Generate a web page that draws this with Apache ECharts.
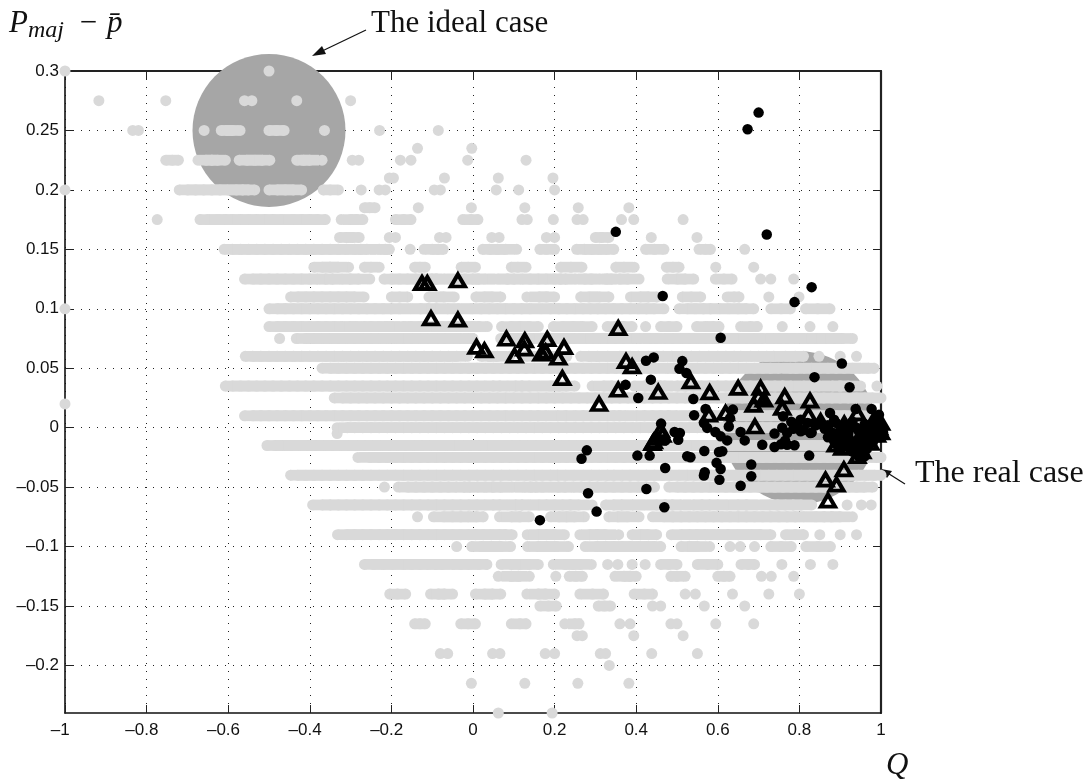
<!DOCTYPE html>
<html><head><meta charset="utf-8">
<style>html,body{margin:0;padding:0;background:#fff}#c{width:1092px;height:781px}</style>
<script src="https://cdn.jsdelivr.net/npm/echarts@6/dist/echarts.min.js"></script>
</head><body><div id="c"></div>
<script>
const xTicks=[-1,-0.8,-0.6,-0.4,-0.2,0,0.2,0.4,0.6,0.8,1];
const yTicks=[-0.2,-0.15,-0.1,-0.05,0,0.05,0.1,0.15,0.2,0.25,0.3];
const caseCentres=[[-0.5,0.25],[0.8,0]];
const rowLevels=[0.3,0.275,0.25,0.235,0.225,0.21,0.2,0.185,0.175,0.16,0.15,0.135,0.125,0.11,0.1,0.085,0.075,0.06,0.05,0.035,0.025,0.02,0.01,0,-0.005,-0.015,-0.025,-0.04,-0.05,-0.065,-0.075,-0.09,-0.1,-0.115,-0.125,-0.14,-0.15,-0.165,-0.175,-0.19,-0.2,-0.215,-0.24];
const rowQ=[
[-1,-0.5],
[-0.917,-0.753,-0.56,-0.542,-0.432,-0.3],
[-0.834,-0.82,-0.659,-0.617,-0.603,-0.59,-0.571,-0.5,-0.482,-0.463,-0.364,-0.229,-0.085],
[-0.136,-0.003],
[-0.753,-0.737,-0.722,-0.674,-0.655,-0.64,-0.625,-0.607,-0.573,-0.555,-0.535,-0.516,-0.498,-0.432,-0.415,-0.4,-0.37,-0.296,-0.28,-0.178,-0.152,-0.013,0.13],
[-0.205,-0.195,-0.07,0.062,0.196],
[-1,-0.72,-0.7,-0.68,-0.66,-0.64,-0.62,-0.6,-0.58,-0.565,-0.55,-0.535,-0.5,-0.48,-0.46,-0.44,-0.42,-0.367,-0.35,-0.33,-0.274,-0.23,-0.215,-0.095,-0.08,0.057,0.112,0.2],
[-0.266,-0.253,-0.24,-0.134,-0.004,0.127,0.258,0.382],
[-0.774,-0.669,-0.65,-0.625,-0.607,-0.59,-0.57,-0.55,-0.53,-0.51,-0.49,-0.468,-0.441,-0.42,-0.4,-0.38,-0.362,-0.323,-0.3,-0.285,-0.27,-0.19,-0.17,-0.152,-0.025,-0.005,0.012,0.12,0.133,0.197,0.255,0.27,0.364,0.394,0.515],
[-0.327,-0.31,-0.295,-0.279,-0.205,-0.19,-0.082,-0.066,0.046,0.064,0.18,0.2,0.3,0.315,0.333,0.437,0.549],
[-0.61,-0.59,-0.57,-0.55,-0.53,-0.51,-0.49,-0.47,-0.45,-0.43,-0.41,-0.39,-0.37,-0.35,-0.33,-0.31,-0.29,-0.275,-0.26,-0.23,-0.215,-0.205,-0.154,-0.12,-0.1,-0.085,-0.073,0.024,0.04,0.06,0.08,0.107,0.164,0.18,0.2,0.254,0.273,0.292,0.31,0.33,0.345,0.423,0.445,0.468,0.554,0.57,0.582,0.666],
[-0.39,-0.37,-0.35,-0.33,-0.305,-0.266,-0.25,-0.23,-0.143,-0.13,-0.117,-0.029,-0.012,0.006,0.094,0.11,0.13,0.215,0.24,0.267,0.35,0.37,0.395,0.474,0.49,0.505,0.595,0.688],
[-0.56,-0.54,-0.52,-0.5,-0.48,-0.46,-0.44,-0.42,-0.4,-0.38,-0.36,-0.345,-0.323,-0.3,-0.28,-0.253,-0.218,-0.2,-0.18,-0.16,-0.14,-0.12,-0.1,-0.09,-0.07,-0.04,-0.02,0,0.013,0.03,0.062,0.084,0.1,0.12,0.14,0.16,0.18,0.2,0.215,0.227,0.25,0.276,0.288,0.31,0.329,0.337,0.36,0.38,0.407,0.476,0.5,0.52,0.541,0.594,0.615,0.635,0.705,0.73,0.786],
[-0.447,-0.43,-0.41,-0.39,-0.37,-0.35,-0.33,-0.31,-0.29,-0.267,-0.2,-0.18,-0.16,-0.108,-0.09,-0.07,-0.046,0.007,0.027,0.048,0.068,0.132,0.162,0.18,0.2,0.264,0.284,0.31,0.333,0.386,0.41,0.43,0.451,0.513,0.535,0.558,0.623,0.64,0.652,0.725,0.799],
[-1,-0.5,-0.48,-0.46,-0.44,-0.42,-0.4,-0.38,-0.36,-0.34,-0.32,-0.3,-0.28,-0.26,-0.24,-0.22,-0.2,-0.18,-0.153,-0.128,-0.11,-0.09,-0.063,-0.034,-0.003,0.019,0.04,0.06,0.08,0.1,0.12,0.14,0.166,0.19,0.21,0.23,0.25,0.27,0.288,0.306,0.325,0.345,0.365,0.385,0.405,0.425,0.445,0.468,0.505,0.525,0.545,0.565,0.582,0.603,0.627,0.65,0.67,0.688,0.73,0.755,0.778,0.815,0.845,0.875],
[-0.5,-0.48,-0.46,-0.44,-0.42,-0.4,-0.38,-0.36,-0.34,-0.32,-0.3,-0.288,-0.267,-0.25,-0.23,-0.21,-0.198,-0.17,-0.153,-0.13,-0.11,-0.087,-0.08,-0.06,-0.04,-0.02,0,0.015,0.035,0.07,0.093,0.115,0.138,0.16,0.197,0.219,0.245,0.268,0.292,0.329,0.35,0.37,0.39,0.423,0.46,0.48,0.5,0.548,0.57,0.59,0.603,0.656,0.68,0.697,0.758,0.826,0.882],
[-0.474,-0.433,-0.41,-0.39,-0.37,-0.35,-0.33,-0.31,-0.29,-0.27,-0.25,-0.23,-0.21,-0.19,-0.17,-0.15,-0.13,-0.11,-0.087,-0.07,-0.05,-0.03,-0.01,0,0.068,0.09,0.11,0.13,0.15,0.17,0.19,0.21,0.23,0.25,0.276,0.292,0.31,0.33,0.35,0.37,0.39,0.41,0.435,0.447,0.47,0.49,0.51,0.53,0.55,0.57,0.59,0.61,0.63,0.65,0.67,0.69,0.71,0.737,0.75,0.77,0.79,0.82,0.84,0.864,0.885,0.905,0.93],
[-0.558,-0.54,-0.52,-0.5,-0.48,-0.46,-0.44,-0.42,-0.4,-0.38,-0.36,-0.34,-0.32,-0.3,-0.28,-0.26,-0.24,-0.22,-0.2,-0.18,-0.16,-0.14,-0.12,-0.1,-0.08,-0.06,-0.04,-0.014,0.02,0.04,0.06,0.09,0.13,0.15,0.17,0.19,0.21,0.23,0.264,0.284,0.305,0.33,0.36,0.385,0.405,0.43,0.45,0.466,0.487,0.513,0.535,0.555,0.578,0.6,0.62,0.64,0.656,0.68,0.7,0.72,0.737,0.766,0.79,0.81,0.848,0.9,0.94],
[-0.37,-0.35,-0.33,-0.31,-0.29,-0.27,-0.25,-0.23,-0.21,-0.19,-0.17,-0.15,-0.13,-0.11,-0.09,-0.07,-0.05,-0.03,-0.01,0.01,0.03,0.05,0.07,0.09,0.11,0.13,0.15,0.17,0.19,0.21,0.23,0.25,0.27,0.29,0.31,0.33,0.35,0.37,0.39,0.41,0.43,0.45,0.476,0.492,0.51,0.53,0.55,0.57,0.59,0.61,0.63,0.65,0.67,0.69,0.71,0.73,0.75,0.778,0.79,0.81,0.83,0.85,0.87,0.89,0.91,0.93,0.95,0.97,0.983],
[-0.607,-0.59,-0.57,-0.55,-0.53,-0.51,-0.49,-0.47,-0.45,-0.43,-0.41,-0.39,-0.37,-0.35,-0.33,-0.31,-0.29,-0.27,-0.25,-0.23,-0.21,-0.19,-0.17,-0.15,-0.13,-0.11,-0.09,-0.07,-0.05,-0.03,-0.01,0.01,0.03,0.05,0.065,0.085,0.105,0.12,0.138,0.162,0.19,0.21,0.23,0.25,0.292,0.32,0.34,0.36,0.395,0.42,0.44,0.46,0.47,0.5,0.52,0.54,0.56,0.58,0.6,0.62,0.64,0.66,0.68,0.7,0.72,0.74,0.76,0.78,0.81,0.83,0.85,0.88,0.9,0.92,0.95,0.99],
[-0.34,-0.32,-0.3,-0.28,-0.26,-0.24,-0.22,-0.2,-0.18,-0.16,-0.14,-0.12,-0.1,-0.08,-0.06,-0.04,-0.02,0,0.02,0.04,0.06,0.08,0.1,0.12,0.14,0.16,0.18,0.2,0.22,0.24,0.26,0.28,0.3,0.32,0.34,0.36,0.38,0.4,0.42,0.44,0.46,0.48,0.5,0.52,0.54,0.56,0.58,0.6,0.62,0.64,0.66,0.68,0.7,0.72,0.74,0.76,0.78,0.8,0.82,0.84,0.86,0.88,0.9,0.92,0.94,0.96,0.98,1],
[-1],
[-0.56,-0.54,-0.52,-0.5,-0.48,-0.46,-0.44,-0.42,-0.4,-0.38,-0.36,-0.34,-0.32,-0.3,-0.28,-0.26,-0.24,-0.22,-0.2,-0.18,-0.16,-0.14,-0.12,-0.1,-0.08,-0.06,-0.04,-0.02,0,0.02,0.04,0.06,0.08,0.1,0.12,0.14,0.16,0.18,0.207,0.227,0.25,0.27,0.29,0.31,0.33,0.345,0.36,0.375,0.4,0.42,0.44,0.46,0.48,0.5,0.53,0.55,0.57,0.59,0.61,0.63,0.65,0.67,0.69,0.71,0.73,0.75,0.77,0.79,0.81,0.83,0.85,0.87,0.89,0.91,0.93,0.95,0.98],
[-0.333,-0.308,-0.29,-0.27,-0.25,-0.23,-0.21,-0.19,-0.17,-0.15,-0.13,-0.11,-0.09,-0.07,-0.05,-0.03,-0.01,0.01,0.03,0.05,0.07,0.09,0.11,0.13,0.15,0.17,0.19,0.21,0.23,0.25,0.27,0.29,0.31,0.33,0.35,0.37,0.39,0.41,0.43,0.45,0.47,0.49,0.51,0.53,0.55,0.57,0.59,0.61,0.63,0.65,0.67,0.69,0.71,0.73,0.75,0.77,0.79,0.81,0.83,0.85,0.87,0.89,0.91,0.93,0.95,0.97,0.99,1],
[-0.333],
[-0.505,-0.485,-0.465,-0.445,-0.425,-0.405,-0.385,-0.365,-0.345,-0.325,-0.305,-0.285,-0.265,-0.245,-0.225,-0.205,-0.185,-0.165,-0.145,-0.125,-0.105,-0.085,-0.065,-0.045,-0.025,-0.005,0.015,0.035,0.055,0.075,0.095,0.115,0.135,0.155,0.175,0.195,0.215,0.235,0.255,0.275,0.295,0.315,0.335,0.355,0.375,0.395,0.415,0.435,0.455,0.475,0.495,0.515,0.535,0.555,0.575,0.595,0.615,0.635,0.655,0.675,0.695,0.715,0.735,0.755,0.775,0.795,0.815,0.835,0.855,0.875,0.895,0.915,0.935,0.955,0.98],
[-0.282,-0.253,-0.23,-0.21,-0.19,-0.17,-0.15,-0.13,-0.11,-0.09,-0.07,-0.05,-0.03,-0.01,0.01,0.03,0.05,0.07,0.09,0.11,0.13,0.15,0.17,0.19,0.21,0.23,0.25,0.27,0.29,0.31,0.33,0.35,0.37,0.39,0.41,0.43,0.45,0.47,0.49,0.51,0.53,0.55,0.57,0.59,0.61,0.63,0.65,0.67,0.69,0.71,0.73,0.75,0.77,0.79,0.81,0.83,0.85,0.87,0.89,0.91,0.93,0.95,0.97,0.99,1],
[-0.447,-0.43,-0.41,-0.39,-0.37,-0.35,-0.33,-0.31,-0.29,-0.27,-0.25,-0.23,-0.21,-0.19,-0.17,-0.15,-0.13,-0.11,-0.09,-0.07,-0.05,-0.03,-0.01,0.01,0.03,0.05,0.07,0.09,0.11,0.13,0.15,0.17,0.19,0.207,0.227,0.248,0.27,0.29,0.31,0.33,0.345,0.365,0.385,0.405,0.425,0.445,0.465,0.485,0.505,0.525,0.545,0.565,0.585,0.605,0.625,0.645,0.665,0.685,0.705,0.725,0.745,0.765,0.785,0.805,0.825,0.845,0.865,0.885,0.905,0.925,0.945,0.965,0.985,1],
[-0.217,-0.183,-0.16,-0.14,-0.12,-0.1,-0.08,-0.06,-0.04,-0.02,-0.01,0.01,0.03,0.05,0.068,0.095,0.125,0.14,0.155,0.17,0.19,0.21,0.225,0.245,0.265,0.285,0.305,0.325,0.345,0.365,0.385,0.405,0.425,0.445,0.48,0.5,0.52,0.54,0.56,0.58,0.6,0.62,0.64,0.66,0.68,0.7,0.72,0.74,0.76,0.78,0.8,0.82,0.84,0.86,0.88,0.9,0.92,0.94,0.96,0.98],
[-0.393,-0.37,-0.35,-0.33,-0.31,-0.29,-0.27,-0.25,-0.23,-0.21,-0.19,-0.17,-0.15,-0.13,-0.11,-0.09,-0.07,-0.05,-0.03,-0.01,0.01,0.03,0.05,0.065,0.085,0.105,0.12,0.138,0.161,0.18,0.2,0.22,0.24,0.26,0.292,0.325,0.345,0.365,0.39,0.42,0.45,0.47,0.49,0.51,0.54,0.56,0.58,0.6,0.623,0.65,0.67,0.696,0.727,0.745,0.765,0.785,0.805,0.83,0.917,0.952,0.976],
[-0.136,-0.097,-0.073,-0.05,-0.03,-0.01,0.01,0.025,0.065,0.094,0.115,0.138,0.19,0.21,0.23,0.25,0.273,0.333,0.355,0.38,0.407,0.44,0.467,0.49,0.51,0.53,0.55,0.57,0.59,0.61,0.63,0.65,0.67,0.69,0.71,0.73,0.75,0.77,0.79,0.813,0.84,0.86,0.88,0.9,0.93],
[-0.332,-0.31,-0.29,-0.27,-0.25,-0.23,-0.21,-0.19,-0.17,-0.15,-0.13,-0.11,-0.09,-0.07,-0.05,-0.03,-0.011,0.006,0.025,0.045,0.065,0.08,0.096,0.133,0.16,0.18,0.2,0.224,0.262,0.286,0.305,0.325,0.357,0.39,0.41,0.43,0.45,0.486,0.51,0.53,0.55,0.57,0.6,0.625,0.65,0.68,0.705,0.73,0.766,0.79,0.81,0.85,0.9,0.94],
[-0.04,-0.003,0.02,0.045,0.068,0.092,0.134,0.16,0.18,0.205,0.234,0.275,0.303,0.325,0.345,0.365,0.385,0.405,0.425,0.445,0.46,0.51,0.53,0.55,0.58,0.63,0.655,0.69,0.73,0.755,0.78,0.816,0.846,0.876],
[-0.266,-0.245,-0.22,-0.196,-0.17,-0.15,-0.13,-0.11,-0.09,-0.076,-0.05,-0.03,-0.01,0.015,0.034,0.069,0.094,0.115,0.138,0.16,0.197,0.225,0.245,0.264,0.29,0.33,0.355,0.39,0.422,0.46,0.48,0.5,0.55,0.575,0.6,0.657,0.675,0.69,0.757,0.827,0.882],
[0.062,0.094,0.111,0.138,0.203,0.236,0.252,0.268,0.348,0.37,0.385,0.4,0.485,0.5,0.52,0.6,0.615,0.63,0.707,0.731,0.786],
[-0.204,-0.185,-0.165,-0.104,-0.085,-0.07,-0.05,0.006,0.028,0.048,0.068,0.132,0.16,0.177,0.2,0.262,0.293,0.32,0.395,0.42,0.44,0.52,0.545,0.636,0.725,0.8],
[0.164,0.185,0.204,0.307,0.322,0.337,0.44,0.46,0.567,0.666],
[-0.143,-0.13,-0.117,-0.03,-0.012,0.006,0.094,0.115,0.13,0.225,0.25,0.26,0.36,0.385,0.485,0.5,0.595,0.688],
[0.255,0.268,0.394,0.515],
[-0.08,-0.062,0.048,0.066,0.177,0.2,0.312,0.325,0.438,0.55],
[0.334],
[-0.004,0.127,0.257,0.382],
[0.062,0.194]
];
const blackQ=[0.7,0.673,0.35,0.72,0.465,0.83,0.788,0.607,0.424,0.443,0.513,0.506,0.523,0.904,0.837,0.436,0.374,0.405,0.54,0.923,0.57,0.542,0.637,0.63,0.627,0.566,0.574,0.594,0.607,0.623,0.656,0.666,0.739,0.709,0.739,0.76,0.758,0.77,0.77,0.788,0.803,0.803,0.824,0.827,0.875,0.885,0.938,0.977,0.995,0.461,0.494,0.507,0.503,0.472,0.279,0.266,0.403,0.433,0.525,0.533,0.567,0.603,0.611,0.597,0.607,0.682,0.682,0.568,0.566,0.604,0.656,0.471,0.425,0.282,0.469,0.303,0.164,
0.78,0.785,0.795,0.81,0.82,0.83,0.84,0.85,0.862,0.87,0.88,0.89,0.9,0.91,0.92,0.93,0.94,0.95,0.96,0.97,0.98,0.99,1,0.87,0.885,0.895,0.905,0.92,0.935,0.945,0.955,0.965,0.975,0.985,0.995,1.005,0.89,0.905,0.925,0.94,0.96,0.98,0.93,0.95,0.965,0.945,0.96,0.755,0.765];
const blackP=[0.265,0.251,0.1647,0.1625,0.1107,0.1182,0.1056,0.0756,0.0563,0.0591,0.056,0.0496,0.046,0.054,0.0425,0.0404,0.036,0.0249,0.0241,0.034,0.0157,0.0104,0.0152,0.008,0.001,0.0039,-0.0002,-0.0037,-0.0073,-0.0107,-0.0037,-0.0107,-0.005,-0.0143,-0.0162,0.0095,0,-0.0045,-0.0143,-0.0148,0.0067,-0.0031,-0.0235,-0.0045,0.0124,0.0067,0.0157,0.0157,0.0108,0.0034,-0.0037,-0.0045,-0.0102,-0.0106,-0.0191,-0.0262,-0.0235,-0.0235,-0.024,-0.0249,-0.0196,-0.0204,-0.0198,-0.0296,-0.0347,-0.031,-0.0408,-0.0375,-0.0403,-0.0439,-0.0488,-0.0339,-0.0516,-0.0551,-0.0669,-0.0706,-0.0778,
0.005,-0.001,0.003,-0.002,0.004,-0.004,0.002,0.003,-0.001,0.002,-0.004,0.004,-0.006,0.002,-0.004,0.005,0,-0.004,0.003,0,0.004,0.006,0.002,-0.008,-0.011,-0.006,-0.012,-0.008,-0.012,-0.009,-0.006,-0.01,-0.006,-0.004,-0.008,-0.004,-0.014,-0.016,-0.015,-0.018,-0.014,-0.012,-0.02,-0.02,-0.018,-0.024,-0.024,-0.014,-0.011];
const triQ=[-0.125,-0.112,-0.037,-0.103,-0.037,0.0085,0.028,0.082,0.127,0.182,0.102,0.126,0.168,0.178,0.209,0.223,0.219,0.356,0.375,0.39,0.356,0.454,0.309,0.534,0.58,0.65,0.705,0.7,0.713,0.688,0.764,0.758,0.826,0.822,0.578,0.619,0.691,0.46,0.443,0.45,0.464,0.44,0.852,0.885,0.91,0.942,0.889,0.905,0.942,0.954,0.974,0.909,0.864,0.891,0.87,0.995,1,0.98,0.95,0.97,0.99,1,0.96,0.93];
const triP=[0.1216,0.1216,0.1238,0.092,0.0908,0.068,0.065,0.0748,0.0734,0.0745,0.0605,0.0664,0.0622,0.064,0.0588,0.0677,0.0417,0.0838,0.056,0.0516,0.0319,0.03,0.0199,0.0389,0.0297,0.0334,0.0334,0.0264,0.0236,0.0192,0.0264,0.0166,0.0227,0.0109,0.0109,0.0124,0.001,-0.002,-0.0116,-0.0087,-0.006,-0.013,0.0054,0,0.0034,0.012,-0.0143,-0.017,-0.024,-0.0199,-0.0129,-0.035,-0.0437,-0.0479,-0.0613,0,-0.004,0.005,-0.008,-0.002,-0.006,0.004,-0.012,-0.004];

const pxPerQ=408, near=0.032;
const grayData=[], joinData=[];
rowLevels.forEach((lv,i)=>rowQ[i].forEach((q,j,a)=>{
  grayData.push([q,lv]);
  if(j>0&&j<a.length-1){
    const gl=q-a[j-1], gr=a[j+1]-q;
    if(gl<=near&&gr<=near) joinData.push([q,lv,(gl+gr)*pxPerQ]);
  }
}));
const minus=v=>v<0?'\u2013'+String(-v)+'  ':String(v);
const grid={left:65,right:211,top:71,bottom:68};
const frameLine={show:true,onZero:false,lineStyle:{color:'#111',width:1.6}};
const frameLine2={show:true,onZero:false,lineStyle:{color:'#222',width:2.2}};
const inTick={show:true,inside:true,length:8,lineStyle:{color:'#222',width:1}};
const dotted={show:true,lineStyle:{color:'#222',width:1,type:[1,7]}};
const labelFont={fontFamily:'Liberation Sans',fontSize:17,color:'#111'};
const option={
 animation:false,backgroundColor:'#fff',grid,
 xAxis:[
  {type:'value',min:-1,max:1,interval:0.2,position:'bottom',axisLine:frameLine,axisTick:inTick,splitLine:dotted,
   axisLabel:{...labelFont,margin:9,formatter:v=>minus(Math.round(v*10)/10),customValues:xTicks,hideOverlap:false,showMinLabel:true,showMaxLabel:true}},
  {type:'value',min:-1,max:1,interval:0.2,position:'top',axisLine:frameLine2,axisTick:inTick,axisLabel:{show:false},splitLine:{show:false}}
 ],
 yAxis:[
  {type:'value',min:-0.24,max:0.3,position:'left',axisLine:frameLine,
   axisTick:{...inTick,customValues:yTicks},splitLine:dotted,
   axisLabel:{...labelFont,margin:6,customValues:yTicks,formatter:v=>{const r=Math.round(v*100)/100;return r<0?'\u2013'+(-r):String(r);}}},
  {type:'value',min:-0.24,max:0.3,position:'right',axisLine:frameLine2,
   axisTick:{...inTick,customValues:yTicks},axisLabel:{show:false},splitLine:{show:false}}
 ],
 series:[
  {name:'cases',type:'scatter',clip:false,symbol:'circle',symbolSize:153,data:caseCentres,itemStyle:{color:'#a6a6a6',opacity:1},silent:true,z:2},
  {name:'all',type:'scatter',clip:false,symbol:'circle',symbolSize:11,data:grayData,itemStyle:{color:'#d9d9d9',opacity:1},silent:true,z:3},
  {name:'all runs',type:'scatter',clip:false,symbol:'rect',symbolSize:v=>[v[2],10.7],data:joinData,itemStyle:{color:'#d9d9d9',opacity:1},silent:true,z:3},
  {name:'circles',type:'scatter',clip:false,symbol:'circle',symbolSize:10.5,data:blackQ.map((q,i)=>[q,blackP[i]]),itemStyle:{color:'#000',opacity:1},silent:true,z:4},
  {name:'triangles',type:'scatter',clip:false,symbol:'triangle',symbolSize:[14,12],data:triQ.map((q,i)=>[q,triP[i]]),itemStyle:{color:'transparent',borderColor:'#000',borderWidth:4,opacity:1},silent:true,z:5}
 ],
 graphic:[
  {type:'text',left:9,top:8,style:{rich:{p:{fontFamily:'Liberation Serif',fontStyle:'italic',fontSize:31,fill:'#111'},s:{fontFamily:'Liberation Serif',fontStyle:'italic',fontSize:24,padding:[14,0,0,0],fill:'#111'},m:{fontFamily:'Liberation Serif',fontSize:31,padding:[0,2,0,8],fill:'#111'}},text:'{p|P}{s|maj}{m| \u2212 }{p|p\u0304}'}},
  {type:'text',left:371,top:8,style:{text:'The ideal case',fontFamily:'Liberation Serif',fontSize:31,fill:'#111'}},
  {type:'text',left:915,top:458,style:{text:'The real case',fontFamily:'Liberation Serif',fontSize:32,fill:'#111'}},
  {type:'text',left:886,top:750,style:{text:'Q',fontFamily:'Liberation Serif',fontStyle:'italic',fontSize:31,fill:'#111'}},
  {type:'line',shape:{x1:366,y1:30,x2:318,y2:53},style:{stroke:'#111',lineWidth:1.2}},
  {type:'polygon',shape:{points:[[312,56],[326,54],[322,46]]},style:{fill:'#111'}},
  {type:'line',shape:{x1:905,y1:484,x2:886,y2:472},style:{stroke:'#111',lineWidth:1.2}},
  {type:'polygon',shape:{points:[[881,469],[892,471],[887,478]]},style:{fill:'#111'}}
 ]
};
echarts.init(document.getElementById('c'),null,{renderer:'canvas'}).setOption(option);
</script></body></html>
